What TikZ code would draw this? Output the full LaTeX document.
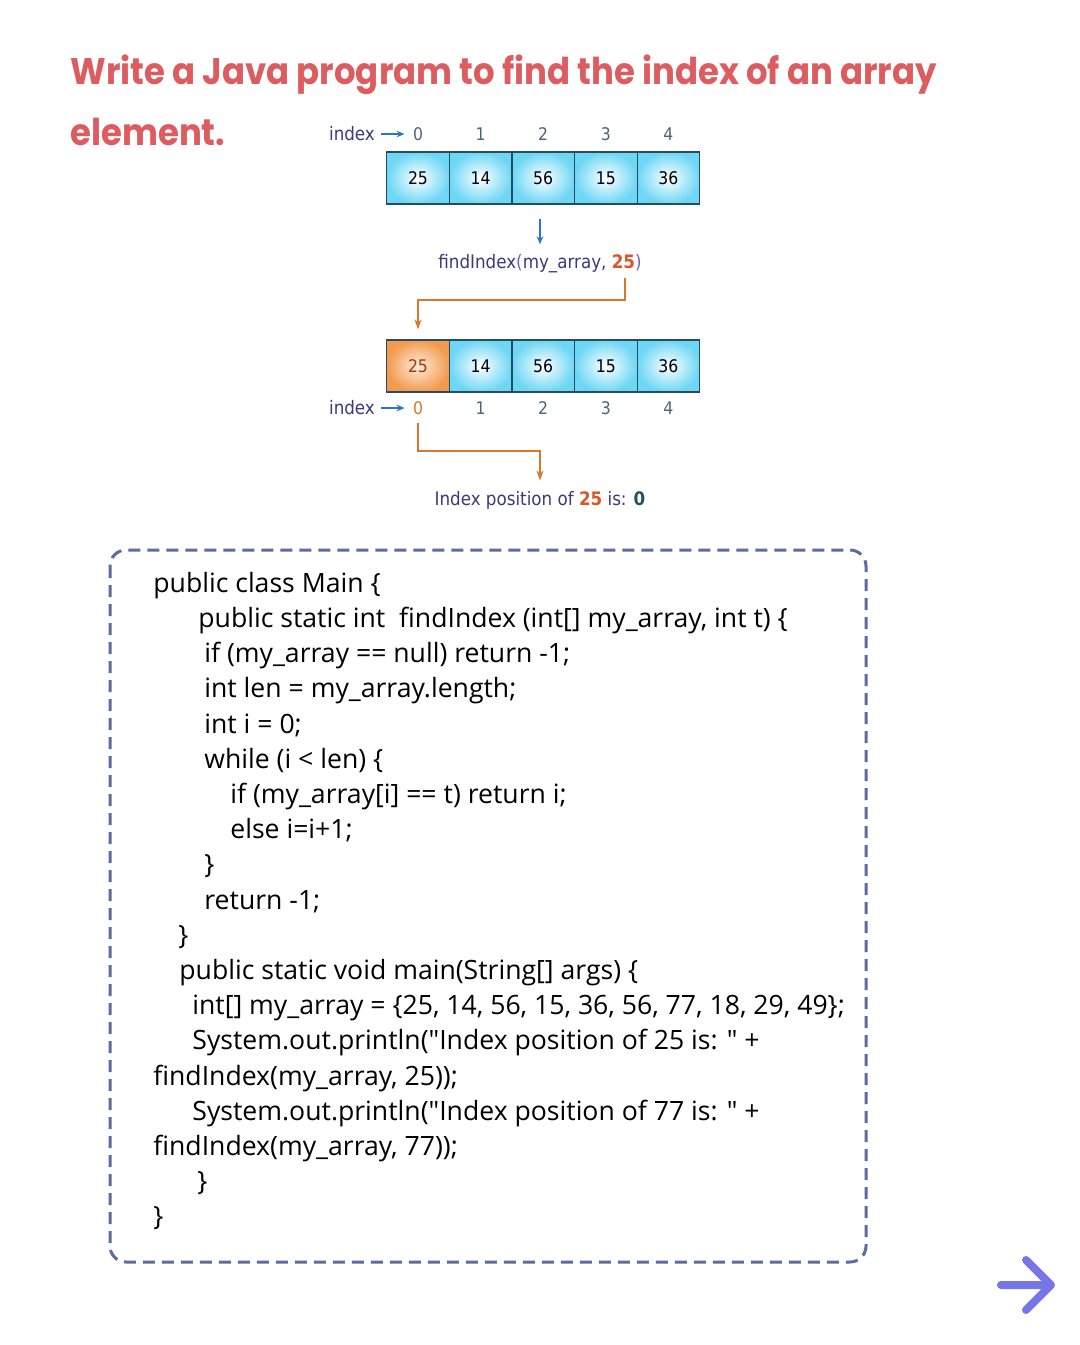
\documentclass[tikz,border=0pt]{standalone}
\usepackage{fontspec}
\setmainfont{Open Sans}[Ligatures=TeXOff]
\newfontfamily\titlefont{Poppins}
\newfontfamily\figfont{DejaVu Sans Condensed}
\usepackage{xcolor}
\usetikzlibrary{arrows.meta}

\definecolor{titlered}{RGB}{221,92,96}
\definecolor{idxblue}{RGB}{58,58,125}
\definecolor{parpurple}{RGB}{125,95,175}
\definecolor{idxgray}{RGB}{80,100,115}
\definecolor{arrowblue}{RGB}{40,120,195}
\definecolor{cellcyan}{RGB}{110,215,245}
\definecolor{celledge}{RGB}{40,75,95}
\definecolor{cellorange}{RGB}{242,155,80}
\definecolor{linkorange}{RGB}{215,120,45}
\definecolor{numred}{RGB}{222,85,40}
\definecolor{zeroteal}{RGB}{40,80,95}
\definecolor{boxblue}{RGB}{92,108,158}
\definecolor{navarrow}{RGB}{118,118,232}

\tikzset{
  cell/.style={draw=celledge, line width=0.6pt, minimum width=31.3pt, minimum height=26pt,
    inner sep=0pt, inner color=white, outer color=cellcyan, font=\figfont\fontsize{8.7}{10}\selectfont},
  hotcell/.style={cell, inner color=orange!15, outer color=cellorange, text=numred!70!black},
  idx/.style={inner sep=0pt, text=idxgray, font=\figfont\fontsize{8.7}{10}\selectfont},
  figtext/.style={inner sep=0pt, text=idxblue, font=\figfont\fontsize{9.3}{11}\selectfont},
  pointer/.style={arrowblue, line width=0.7pt, -{Stealth[length=4pt,width=3.2pt]}},
  link/.style={linkorange, line width=0.8pt, -{Stealth[length=5pt,width=3.5pt]}},
  code/.style={anchor=base west, inner sep=0pt, font=\fontsize{13.3}{15}\selectfont},
  heading/.style={anchor=base west, inner sep=0pt, xscale=0.917, text=titlered,
    font=\titlefont\bfseries\fontsize{18.5}{22}\selectfont}
}

\begin{document}
\begin{tikzpicture}[x=0.5pt, y=-0.5pt]
\fill[white] (0,0) rectangle (1080,1345);
\useasboundingbox (0,0) rectangle (1080,1345);

% title
\node[heading] (title1) at (70,84) {Write a Java program to find the index of an array};
\node[heading] (title2) at (70,145) {element.};

% array before the call
\foreach \v [count=\i from 0] in {25,14,56,15,36}
  \node[cell] (a\i) at ({418+62.6*\i},178) {\v};
\foreach \i in {0,...,4}
  \node[idx] (ta\i) at ({418+62.6*\i},134) {\i};
\node[figtext] (idxA) at (352,134) {index};
\draw[pointer] (idxA.east) ++(3pt,0) -- ([xshift=-4pt]ta0.west);

\node[figtext] (call) at (540,264) {findIndex\textcolor{parpurple}{(}my\_array, \textcolor{numred}{\bfseries 25}\textcolor{parpurple}{)}};
\coordinate (c25) at (625,278);
\draw[pointer] ([yshift=-7pt]call.north |- a2.south) -- ([yshift=5pt]call.north);

% array after the call
\node[hotcell] (b0) at (418,366) {25};
\foreach \v [count=\i] in {14,56,15,36}
  \node[cell] (b\i) at ({418+62.6*\i},366) {\v};
\node[idx, text=linkorange] (tb0) at (418,408) {0};
\foreach \i in {1,...,4}
  \node[idx] (tb\i) at ({418+62.6*\i},408) {\i};
\node[figtext] (idxB) at (352,408) {index};
\draw[pointer] (idxB.east) ++(3pt,0) -- ([xshift=-4pt]tb0.west);

\node[figtext] (res) at (540,500) {Index position of \textcolor{numred}{\bfseries 25} is: \textcolor{zeroteal}{\bfseries 0}};
\draw[link] (c25) -- ++(0,22) -| ([yshift=5pt]b0.north);
\draw[link] ([yshift=-4pt]tb0.south) -- ++(0,28) -| ([yshift=5pt]res.north);

% code listing
\draw[boxblue, line width=1.5pt, dash pattern=on 6pt off 3.5pt, rounded corners=8pt] (110,550) rectangle (866,1262);
\node[code] (l1)  at (153,592) {public class Main \{};
\node[code] (l2)  at (198,627) {public static int\ \ findIndex (int[] my\_array, int t) \{};
\node[code] (l3)  at (204,662) {if (my\_array == null) return -1;};
\node[code] (l4)  at (204,697) {int len = my\_array.length;};
\node[code] (l5)  at (204,733) {int i = 0;};
\node[code] (l6)  at (204,768) {while (i < len) \{};
\node[code] (l7)  at (230,803) {if (my\_array[i] == t) return i;};
\node[code] (l8)  at (230,838) {else i=i+1;};
\node[code] (l9)  at (204,873) {\}};
\node[code] (l10) at (204,909) {return -1;};
\node[code] (l11) at (178,944) {\}};
\node[code] (l12) at (179,979) {public static void main(String[] args) \{};
\node[code] (l13) at (192,1014) {int[] my\_array = \{25, 14, 56, 15, 36, 56, 77, 18, 29, 49\};};
\node[code] (l14) at (192,1049) {System.out.println("Index position of 25 is: " +};
\node[code] (l15) at (153,1085) {findIndex(my\_array, 25));};
\node[code] (l16) at (192,1120) {System.out.println("Index position of 77 is: " +};
\node[code] (l17) at (153,1155) {findIndex(my\_array, 77));};
\node[code] (l18) at (197,1190) {\}};
\node[code] (l19) at (153,1225) {\}};

% next-page arrow
\draw[navarrow, line width=4pt, line cap=round, line join=round]
  (1001,1285) -- (1051,1285) (1026,1260) -- (1051,1285) -- (1026,1310);
\end{tikzpicture}
\end{document}
